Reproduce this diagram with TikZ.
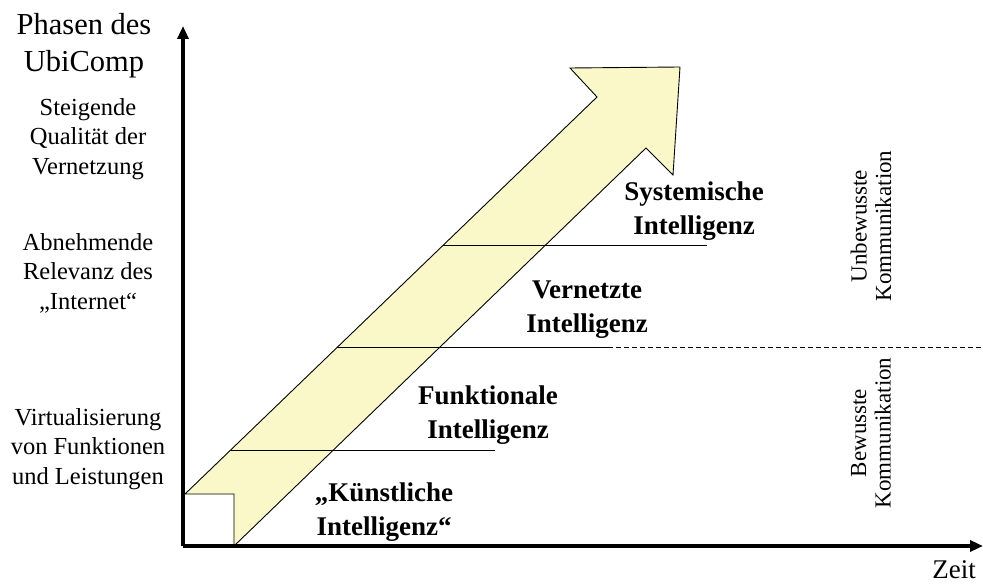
\documentclass[tikz,border=0pt]{standalone}
\usepackage{fontspec}
\setmainfont{Liberation Serif}
\usetikzlibrary{arrows.meta}
\definecolor{arrowyellow}{RGB}{250,248,200}

\begin{document}
\begin{tikzpicture}[x=1pt, y=-1pt,
  axis/.style={line width=3.5pt, -{Triangle[length=13pt,width=11pt]}},
  phase/.style={font=\fontsize{27}{34}\selectfont\bfseries, align=center},
  side/.style={font=\fontsize{24.5}{29.5}\selectfont, align=center},
  comm/.style={font=\fontsize{23}{24.5}\selectfont, align=center, rotate=90}]
\useasboundingbox (0,0) rectangle (983,585);
% axes
\coordinate (o) at (183,546);
\coordinate (ytop) at (183,26);
\coordinate (xend) at (983,546);
% the big arrow
\draw [fill=arrowyellow, line width=0.9pt, line join=miter]
  (185,494) -- (597,97) -- (570,68) -- (680,67) -- (673,175) -- (646,148)
  -- (234,546) -- (234,494) -- cycle;
% phase borders
\coordinate (fk) at (231,450);
\coordinate (fkend) at (495,450);
\coordinate (vn) at (337,348);
\coordinate (vnend) at (608,348);
\coordinate (rim) at (983,348);
\coordinate (sy) at (443,246);
\coordinate (syend) at (707,246);
\draw [line width=1pt] (fk) -- (fkend);
\draw [line width=1pt] (vn) -- (vnend);
\draw [line width=1pt] (sy) -- (syend);
\draw [line width=1pt, dash pattern=on 5pt off 3pt] (vnend) -- (rim);
\draw [axis] (o) -- (ytop);
\draw [axis] (o) -- (xend);
% labels
\node [font=\fontsize{30.5}{37}\selectfont, align=center] (title) at (84,46) {Phasen des\\UbiComp};
\node [side] (steig) at (88,139) {Steigende\\Qualität der\\Vernetzung};
\node [side] (abn) at (88,273) {Abnehmende\\Relevanz des\\„Internet“};
\node [side] (virt) at (88,449) {Virtualisierung\\von Funktionen\\und Leistungen};
\node [phase] (kuen) at (384,512) {„Künstliche\\Intelligenz“};
\node [phase] (funk) at (488,415) {Funktionale\\Intelligenz};
\node [phase] (vern) at (587,310) {Vernetzte\\Intelligenz};
\node [phase] (syst) at (694,211) {Systemische\\Intelligenz};
\node [comm] (unbew) at (871,226) {Unbewusste\\Kommunikation};
\node [comm] (bew) at (871,433) {Bewusste\\Kommunikation};
\node [font=\fontsize{27}{33}\selectfont] (zeit) at (954,570) {Zeit};
\end{tikzpicture}
\end{document}
